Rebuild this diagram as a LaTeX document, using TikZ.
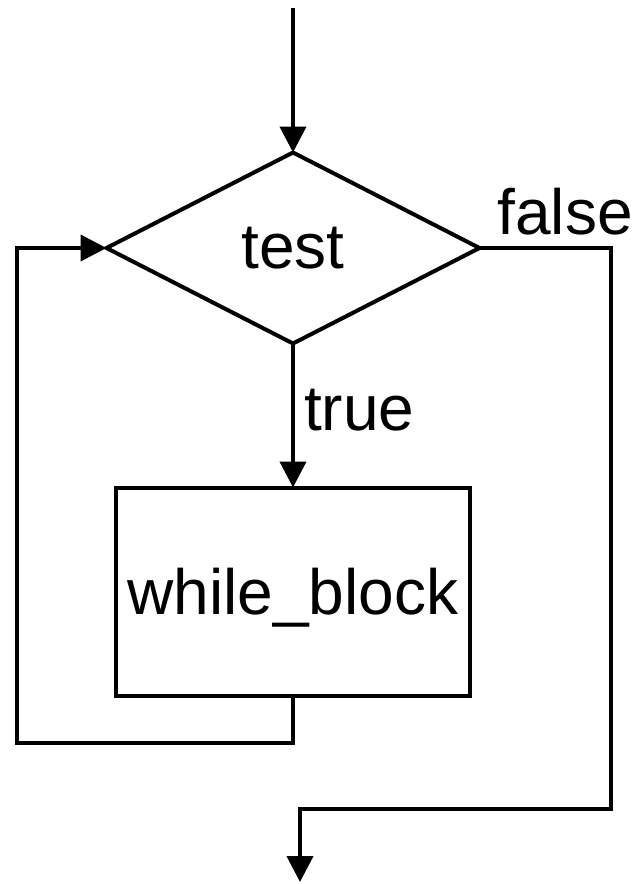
\documentclass[tikz,border=0pt]{standalone}
\usepackage{fontspec}
\setmainfont{Liberation Sans}
\usetikzlibrary{arrows.meta,positioning,shapes.geometric}

\begin{document}
\begin{tikzpicture}[x=1pt,y=-1pt,
      mydecision/.style={
         diamond,
         draw=black,
         line width=4pt,
         inner sep=0pt,
         outer sep=0pt,
         minimum width=373pt,
         minimum height=191pt,
         font=\fontsize{64}{72}\selectfont},
      myblock/.style={
         rectangle,
         draw=black,
         line width=4pt,
         outer sep=0pt,
         text depth=0pt,
         minimum width=354pt,
         minimum height=208pt,
         font=\fontsize{64}{72}\selectfont},
      mylabel/.style={inner sep=0pt, font=\fontsize{64}{72}\selectfont},
      myarrow/.style={-{Triangle[length=26pt,width=26pt]}, line width=4pt},
      node distance=144pt
      ]
      \useasboundingbox (0,0) rectangle (634,884);
      \node[mydecision] (test) at (293,248) {test};
      \node[myblock,below=of test] (block) {while\_block};

      \coordinate (entry) at (293,8);
      \coordinate (loopcorner) at (17,743);
      \coordinate (falsecorner) at (611,809);
      \coordinate (exit) at (300,882);

      \draw[myarrow] (entry) -- (test);
      \draw[myarrow] (test) -- node[mylabel,right,pos=0.46,xshift=9pt] {true} (block);
      \draw[myarrow] (block.south) |- (loopcorner) |- (test.west);
      \draw[myarrow] (test.east) node[mylabel,anchor=south west,xshift=16pt,yshift=11pt] {false}
         -| (falsecorner) -| (exit);

\end{tikzpicture}
\end{document}
